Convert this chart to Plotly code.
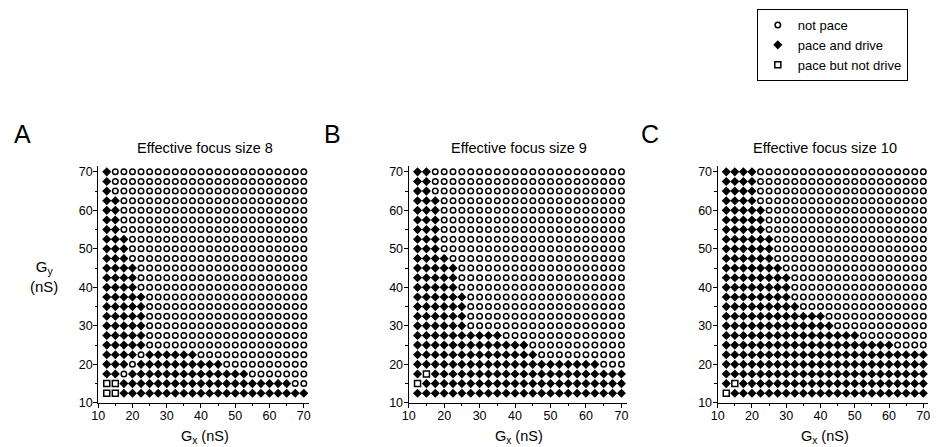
import re
import plotly.graph_objects as go

# ---- data ----
G_x = [12.5, 15.0, 17.5, 20.0, 22.5, 25.0, 27.5, 30.0, 32.5, 35.0, 37.5, 40.0,
       42.5, 45.0, 47.5, 50.0, 52.5, 55.0, 57.5, 60.0, 62.5, 65.0, 67.5, 70.0]
# rows listed from top (Gy = 70) to bottom (Gy = 12.5)
G_y = [70.0, 67.5, 65.0, 62.5, 60.0, 57.5, 55.0, 52.5, 50.0, 47.5, 45.0, 42.5,
       40.0, 37.5, 35.0, 32.5, 30.0, 27.5, 25.0, 22.5, 20.0, 17.5, 15.0, 12.5]

# run-length rows: d = pace and drive, o = not pace, s = pace but not drive
rows_A = ["1d23o", "1d23o", "1d23o", "2d22o", "2d22o", "2d22o", "2d22o", "3d21o",
          "3d21o", "3d21o", "4d20o", "4d20o", "4d20o", "5d19o", "5d19o", "5d19o",
          "5d19o", "5d19o", "5d19o", "4d1o6d13o", "3d1o10d10o", "2d1o14d7o",
          "2s20d2o", "2s22d"]
rows_B = ["2d22o", "2d22o", "2d22o", "3d21o", "3d21o", "3d21o", "3d21o", "3d21o",
          "3d21o", "4d20o", "5d19o", "5d19o", "5d19o", "6d18o", "6d18o", "6d18o",
          "6d18o", "10d14o", "13d11o", "14d10o", "21d3o", "1d1s22d",
          "1s23d", "24d"]
rows_C = ["4d20o", "4d20o", "4d20o", "4d20o", "5d19o", "5d19o", "5d19o", "6d18o",
          "6d18o", "6d18o", "7d17o", "8d16o", "8d16o", "8d16o", "9d15o", "12d12o",
          "13d11o", "16d8o", "20d4o", "24d", "24d", "24d",
          "1d1s22d", "1s23d"]

panel_titles = ["Effective focus size 8", "Effective focus size 9", "Effective focus size 10"]
panel_letters = ["A", "B", "C"]
class_names = {"o": "not pace", "d": "pace and drive", "s": "pace but not drive"}
tick_vals = [10, 20, 30, 40, 50, 60, 70]


def decode(code):
    out = []
    for n, c in re.findall(r"(\d+)([dos])", code):
        out += [c] * int(n)
    return out


styles = {
    "o": dict(symbol="circle-open", size=5.5, color="black", line=dict(width=1.5, color="black")),
    "d": dict(symbol="diamond", size=7, color="black", line=dict(width=0)),
    "s": dict(symbol="square-open", size=6, color="black", line=dict(width=1.5, color="black")),
}

W, H = 938, 447
x_left = [84, 397.5, 709.5]    # pixel column of Gx = 10 in each panel
sx = [3.46, 3.58, 3.46]        # px per nS horizontally, per panel
sy = 3.92                      # px per nS vertically
letter_left = [-3, 310, 630]
xr = [10, 71.5]
yr = [10, 71.5]
y0_px = 401                    # pixel row of Gy = 10

fig = go.Figure()
for p, rows in enumerate([rows_A, rows_B, rows_C]):
    pts = {"o": ([], []), "d": ([], []), "s": ([], [])}
    for yi, code in enumerate(rows):
        for xi, c in enumerate(decode(code)):
            if xi < len(G_x):
                pts[c][0].append(G_x[xi])
                pts[c][1].append(G_y[yi])
    ax = "" if p == 0 else str(p + 1)
    for c in ["o", "d", "s"]:
        fig.add_trace(go.Scatter(
            x=pts[c][0], y=pts[c][1], mode="markers",
            marker=styles[c], name=class_names[c], legendgroup=c,
            showlegend=(p == 0), xaxis="x" + ax, yaxis="y" + ax,
            hoverinfo="skip"))

axis_common = dict(
    showline=True, linecolor="black", linewidth=1.2, ticks="outside",
    ticklen=4, tickwidth=1.2, tickcolor="black", showgrid=False, zeroline=False,
    tickvals=tick_vals, tickfont=dict(family="Liberation Sans", size=12.5, color="black"),
    minor=dict(ticks="outside", ticklen=2.5, tickwidth=1, tickcolor="black", dtick=5, tick0=10, showgrid=False),
    fixedrange=True,
)

ybot = (H - y0_px) / H
ytop = (H - (y0_px - (yr[1] - yr[0]) * sy)) / H
layout = dict(
    width=W, height=H, margin=dict(l=0, r=0, t=0, b=0),
    paper_bgcolor="white", plot_bgcolor="white",
    font=dict(family="Liberation Sans", color="black"),
    legend=dict(x=749 / W, y=1.0, xanchor="left", yanchor="top",
                bordercolor="black", borderwidth=1, bgcolor="white",
                font=dict(family="Liberation Sans", size=13, color="black"),
                itemwidth=30, tracegroupgap=0),
)
annotations = []
for p in range(3):
    ax = "" if p == 0 else str(p + 1)
    d0 = x_left[p] / W
    d1 = (x_left[p] + (xr[1] - xr[0]) * sx[p]) / W
    layout["xaxis" + ax] = dict(axis_common, domain=[d0, d1], range=xr, anchor="y" + ax,
                                ticklabelstandoff=-3)
    layout["yaxis" + ax] = dict(axis_common, domain=[ybot, ytop], range=yr, anchor="x" + ax,
                                ticklabelstandoff=-2)
    cx = (x_left[p] + (41.25 - 10) * sx[p]) / W
    annotations.append(dict(text=panel_titles[p], x=cx, y=1 - 142 / H, xref="paper", yref="paper",
                            showarrow=False, xanchor="center", yanchor="middle",
                            font=dict(size=14.5, family="Liberation Sans")))
    annotations.append(dict(text="G<sub>x</sub> (nS)", x=cx, y=1 - 435.5 / H, xref="paper", yref="paper",
                            showarrow=False, xanchor="center", yanchor="middle",
                            font=dict(size=14.5, family="Liberation Sans")))
    annotations.append(dict(text=panel_letters[p], x=letter_left[p] / W, y=1 - 127 / H,
                            xref="paper", yref="paper", showarrow=False,
                            xanchor="left", yanchor="middle",
                            font=dict(size=25, family="Liberation Sans")))
annotations.append(dict(text="G<sub>y</sub><br>(nS)", x=29 / W, y=1 - 272 / H, xref="paper", yref="paper",
                        showarrow=False, xanchor="center", yanchor="middle", align="center",
                        font=dict(size=15, family="Liberation Sans")))
layout["annotations"] = annotations
fig.update_layout(**layout)
fig.write_html("out.html")
